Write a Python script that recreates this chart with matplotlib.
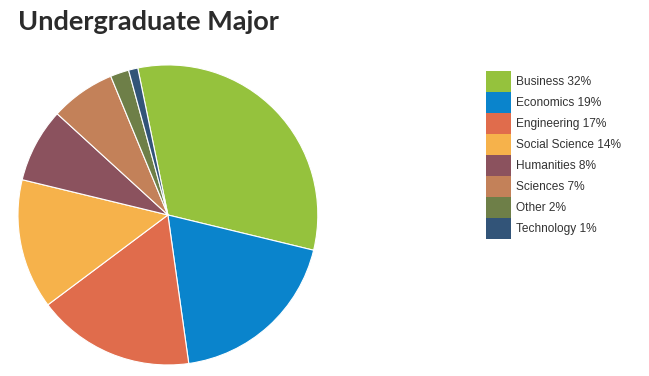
import matplotlib.pyplot as plt
from matplotlib.patches import Patch

majors = ["Business", "Economics", "Engineering", "Social Science",
          "Humanities", "Sciences", "Other", "Technology"]
shares = [32, 19, 17, 14, 8, 7, 2, 1]
colors = ["#95c23d", "#0a84cc", "#e06c4c", "#f6b24b",
          "#8b525e", "#c38159", "#6e7f48", "#325478"]

fig = plt.figure(figsize=(6.49, 3.76), dpi=100)
fig.patch.set_facecolor("white")

ax = fig.add_axes([0.0277, 0.0293, 0.462, 0.798])
ax.pie(shares, colors=colors, startangle=101.6, counterclock=False,
       wedgeprops=dict(edgecolor="white", linewidth=0.8))
ax.set_aspect("auto")
ax.set_xlim(-1, 1)
ax.set_ylim(-1, 1)

fig.text(18 / 649, 1 - 22 / 376, "Undergraduate Major", fontsize=19.5,
         fontweight="bold", family="Lato", color="#2b2b2b", va="center")

handles = [Patch(facecolor=c, edgecolor="none") for c in colors]
labels = [f"{m} {s}%" for m, s in zip(majors, shares)]
fig.legend(handles, labels, loc="upper left", bbox_to_anchor=(486 / 649, 1 - 71 / 376),
           frameon=False, prop=dict(family="Liberation Sans", size=8.6),
           handlelength=2.1, handleheight=2.33, handletextpad=0.4,
           labelspacing=0, borderaxespad=0, borderpad=0,
           labelcolor="#333333")

fig.savefig("out.png", dpi=100)
